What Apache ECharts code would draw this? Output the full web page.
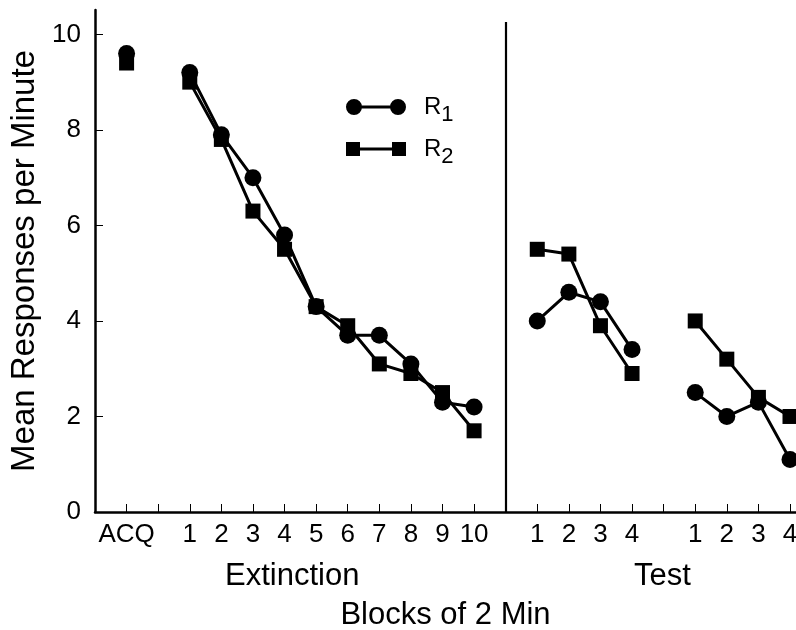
<!DOCTYPE html>
<html>
<head>
<meta charset="utf-8">
<script src="https://cdn.jsdelivr.net/npm/echarts@6/dist/echarts.min.js"></script>
<style>html,body{margin:0;padding:0;background:#fff;}#c{width:796px;height:630px;}</style>
</head>
<body>
<div id="c"></div>
<script>
// Positions on the x axis (value axis units) for each plotted block
const xPositions = [1, 3, 4, 5, 6, 7, 8, 9, 10, 11, 12, 14, 15, 16, 17, 19, 20, 21, 22];
// Tick labels shown at those positions
const xLabels = ['ACQ', '1', '2', '3', '4', '5', '6', '7', '8', '9', '10', '1', '2', '3', '4', '1', '2', '3', '4'];
// Group id for each point (lines only join points of the same group)
const groups = [0, 1, 1, 1, 1, 1, 1, 1, 1, 1, 1, 2, 2, 2, 2, 3, 3, 3, 3];
// Series values
const r1 = [9.6, 9.2, 7.9, 7.0, 5.8, 4.3, 3.7, 3.7, 3.1, 2.3, 2.2, 4.0, 4.6, 4.4, 3.4, 2.5, 2.0, 2.3, 1.1];
const r2 = [9.4, 9.0, 7.8, 6.3, 5.5, 4.3, 3.9, 3.1, 2.9, 2.5, 1.7, 5.5, 5.4, 3.9, 2.9, 4.0, 3.2, 2.4, 2.0];
// Y tick values
const yTicks = [0, 2, 4, 6, 8, 10];
// Phase divider position and phase titles
const dividerX = 13;
const phaseNames = ['Extinction', 'Test'];

const FONT = "'Liberation Sans', Arial, Helvetica, sans-serif";
const labelMap = {};
xPositions.forEach((p, i) => { labelMap[p] = xLabels[i]; });
const allTicks = [];
for (let i = 1; i <= 22; i++) allTicks.push(i);

function buildData(vals) {
  const out = [];
  for (let i = 0; i < vals.length; i++) {
    if (i > 0 && groups[i] !== groups[i - 1]) out.push([xPositions[i] - 1, '-']);
    out.push([xPositions[i], vals[i]]);
  }
  return out;
}

const chart = echarts.init(document.getElementById('c'), null, { renderer: 'canvas' });
const circleIcon = 'path://M0,8A8,8,0,1,1,16,8A8,8,0,1,1,0,8Z M8,6.6H52V9.4H8Z M44,8A8,8,0,1,1,60,8A8,8,0,1,1,44,8Z';
const squareIcon = 'path://M0,1H14V15H0Z M7,6.6H53V9.4H7Z M46,1H60V15H46Z';

chart.setOption({
  animation: false,
  backgroundColor: '#fff',
  textStyle: { fontFamily: FONT, color: '#000' },
  grid: { left: 95, right: 0, top: 10, bottom: 118, containLabel: false, outerBoundsMode: 'none' },
  legend: {
    orient: 'vertical',
    left: 341,
    top: 90,
    itemWidth: 60,
    itemHeight: 16,
    itemGap: 11,
    data: [
      { name: 'R1', icon: circleIcon },
      { name: 'R2', icon: squareIcon }
    ],
    formatter: function (name) { return '{r|R}{s|' + name.slice(1) + '}'; },
    textStyle: {
      color: '#000',
      padding: [0, 0, 0, 13],
      rich: {
        r: { fontSize: 24, fontFamily: FONT, color: '#000' },
        s: { fontSize: 22, fontFamily: FONT, color: '#000', padding: [16, 0, 0, 0] }
      }
    }
  },
  xAxis: {
    type: 'value',
    min: 0,
    max: 22.19,
    name: 'Blocks of 2 Min',
    nameLocation: 'middle',
    nameGap: 88,
    nameTextStyle: { fontSize: 31, fontFamily: FONT, color: '#000' },
    axisLine: { show: true, lineStyle: { color: '#000', width: 2.5 } },
    axisTick: { show: true, inside: true, length: 8, customValues: allTicks, lineStyle: { color: '#000', width: 1 } },
    axisLabel: {
      customValues: xPositions,
      formatter: function (v) { return labelMap[v] || ''; },
      fontSize: 26, fontFamily: FONT, color: '#000', margin: 10
    },
    splitLine: { show: false }
  },
  yAxis: {
    type: 'value',
    min: 0,
    max: 10.51,
    name: 'Mean Responses per Minute',
    nameLocation: 'middle',
    nameGap: 48,
    nameRotate: 90,
    nameTextStyle: { fontSize: 33, fontFamily: FONT, color: '#000' },
    axisLine: { show: true, lineStyle: { color: '#000', width: 2.5 } },
    axisTick: { show: true, inside: true, length: 8, customValues: yTicks, lineStyle: { color: '#000', width: 1 } },
    axisLabel: { customValues: yTicks, fontSize: 26, fontFamily: FONT, color: '#000', margin: 14 },
    splitLine: { show: false }
  },
  graphic: [
    { type: 'text', left: 225, top: 561, style: { text: phaseNames[0], font: '31px ' + FONT, fill: '#000' } },
    { type: 'text', left: 634, top: 561, style: { text: phaseNames[1], font: '31px ' + FONT, fill: '#000' } }
  ],
  series: [
    {
      name: 'R2', type: 'line', z: 2,
      data: buildData(r2),
      symbol: 'rect', symbolSize: 15,
      connectNulls: false,
      itemStyle: { color: '#000' },
      lineStyle: { color: '#000', width: 3 },
      markLine: {
        silent: true, symbol: 'none', label: { show: false },
        lineStyle: { color: '#000', width: 2.2, type: 'solid' },
        data: [[{ coord: [dividerX, 0] }, { coord: [dividerX, 10.26] }]]
      }
    },
    {
      name: 'R1', type: 'line', z: 3,
      data: buildData(r1),
      symbol: 'circle', symbolSize: 17,
      connectNulls: false,
      itemStyle: { color: '#000' },
      lineStyle: { color: '#000', width: 3 }
    }
  ]
});
</script>
</body>
</html>
